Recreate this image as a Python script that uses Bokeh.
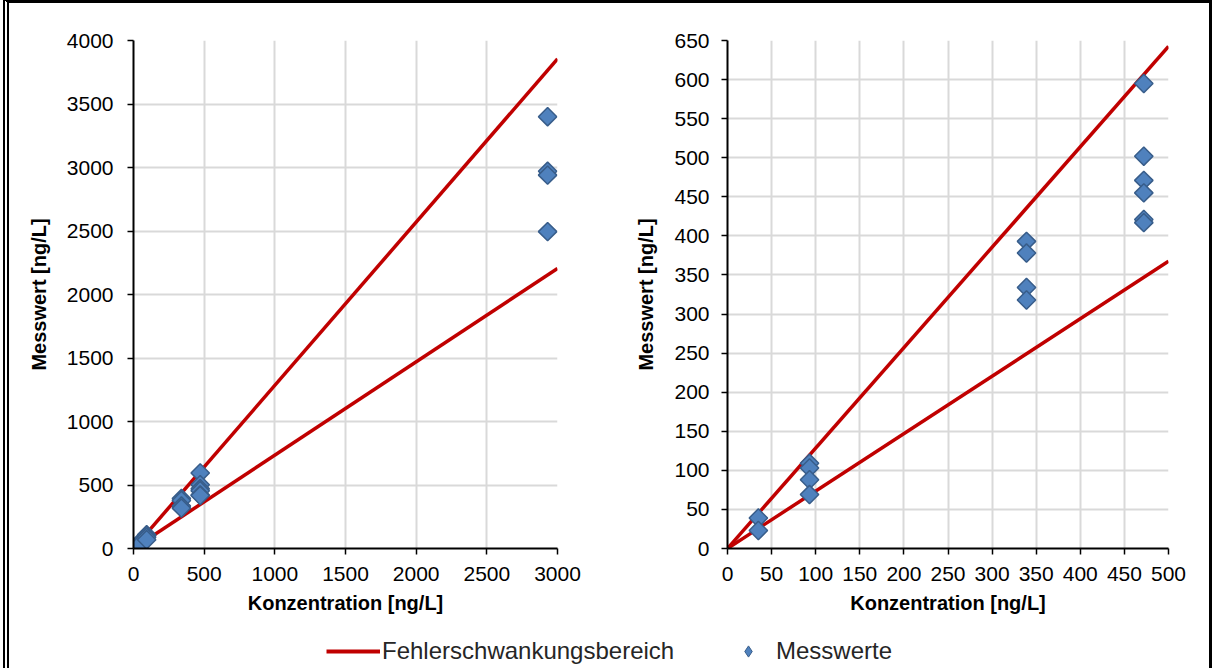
import numpy as np
from bokeh.plotting import figure
from bokeh.layouts import column, row
from bokeh.models import Range1d, SingleIntervalTicker, Legend, LegendItem
from bokeh.embed import file_html
from bokeh.resources import INLINE

# Measured values: concentration [ng/L] and measured value [ng/L]
konzentration = [35, 35,
                 93, 93, 93, 93,
                 339, 339, 339, 339,
                 472, 472, 472, 472, 472, 472,
                 2930, 2930, 2930, 2930]
messwert = [39, 23,
            109, 103, 88, 69,
            393, 378, 334, 318,
            595, 502, 471, 455, 421, 417,
            3400, 2970, 2940, 2495]

# Tolerance band (upper / lower limit lines through the origin)
band_x_links = [0, 3000]
band_oben_links = [0, 3855]
band_unten_links = [0, 2205]
band_x_rechts = [0, 500]
band_oben_rechts = [0, 642.5]
band_unten_rechts = [0, 367.5]

x_titel = "Konzentration [ng/L]"
y_titel = "Messwert [ng/L]"
legende_linie = "Fehlerschwankungsbereich"
legende_punkte = "Messwerte"

ROT = "#c00000"
BLAU = "#4f81bd"
BLAU_RAND = "#385d8a"
GITTER = "#d9d9d9"
FONT = "Liberation Sans"


def panel(width, b_left, b_right, xmax, ymax, xstep, ystep, bx, b_oben, b_unten, kx, ky, y_standoff):
    p = figure(width=width, height=619,
               x_range=Range1d(0, xmax), y_range=Range1d(0, ymax),
               output_backend="svg", toolbar_location=None,
               min_border_left=b_left, min_border_right=b_right,
               min_border_top=37, min_border_bottom=74)
    p.outline_line_color = None
    p.background_fill_color = "white"
    p.border_fill_color = "white"

    p.xaxis.ticker = SingleIntervalTicker(interval=xstep, num_minor_ticks=0)
    p.yaxis.ticker = SingleIntervalTicker(interval=ystep, num_minor_ticks=0)
    for ax in (p.xaxis[0], p.yaxis[0]):
        ax.axis_line_color = "black"
        ax.axis_line_width = 2
        ax.major_tick_line_color = "black"
        ax.major_tick_line_width = 1.5
        ax.major_tick_in = 0
        ax.major_tick_out = 6
        ax.minor_tick_line_color = None
        ax.major_label_text_font = FONT
        ax.major_label_text_font_size = "21px"
        ax.major_label_text_color = "black"
        ax.axis_label_text_font = FONT
        ax.axis_label_text_font_size = "20px"
        ax.axis_label_text_font_style = "bold"
        ax.axis_label_text_color = "black"
    p.xaxis.axis_label = x_titel
    p.yaxis.axis_label = y_titel
    p.xaxis.major_label_standoff = 12
    p.xaxis.axis_label_standoff = 8
    p.yaxis.major_label_standoff = y_standoff
    p.yaxis.axis_label_standoff = 14

    p.xgrid.ticker = p.xaxis.ticker
    p.ygrid.ticker = p.yaxis.ticker
    for g in (p.xgrid[0], p.ygrid[0]):
        g.grid_line_color = GITTER
        g.grid_line_width = 2

    p.line(bx, b_oben, line_color=ROT, line_width=3.5)
    p.line(bx, b_unten, line_color=ROT, line_width=3.5)

    pts_x = [x for x in kx if x <= xmax]
    pts_y = [y for x, y in zip(kx, ky) if x <= xmax]
    p.scatter(pts_x, pts_y, marker="square", size=13, angle=np.pi / 4,
              fill_color=BLAU, line_color=BLAU_RAND, line_width=1.5)
    return p


links = panel(611, 124, 63, 3000, 4000, 500, 500,
              band_x_links, band_oben_links, band_unten_links,
              konzentration, messwert, 14)
rechts = panel(589, 107, 41, 500, 650, 50, 50,
               band_x_rechts, band_oben_rechts, band_unten_rechts,
               konzentration, messwert, 12)

# Legend strip below both panels (swatch renderers carry no visible data)
leg = figure(width=1200, height=46, x_range=Range1d(0, 1200), y_range=Range1d(0, 46),
             output_backend="svg", toolbar_location=None,
             min_border_left=0, min_border_right=0, min_border_top=0, min_border_bottom=0)
leg.axis.visible = False
leg.grid.visible = False
leg.outline_line_color = None
r_linie = leg.line([np.nan, np.nan], [np.nan, np.nan], line_color=ROT, line_width=4)
r_punkt = leg.scatter([np.nan], [np.nan], marker="diamond",
                      fill_color=BLAU, line_color=BLAU_RAND, line_width=1)


def legende(item, x, glyph_w, standoff):
    lg = Legend(items=[item], location=(x, 3), orientation="horizontal",
                padding=0, margin=0, spacing=0,
                glyph_width=glyph_w, glyph_height=28, label_standoff=standoff,
                label_text_font=FONT, label_text_font_size="24px",
                label_text_color="#262626",
                border_line_color=None, background_fill_alpha=0)
    leg.add_layout(lg, "center")


legende(LegendItem(label=legende_linie, renderers=[r_linie]), 317, 54, 2)
legende(LegendItem(label=legende_punkte, renderers=[r_punkt]), 725, 28, 14)

layout = column(row(links, rechts), leg,
                styles={"border-top": "3px solid black",
                        "border-left": "6px double black",
                        "border-right": "3px solid black",
                        "margin-left": "3px"})

open("out.html", "w").write(file_html(layout, INLINE))
